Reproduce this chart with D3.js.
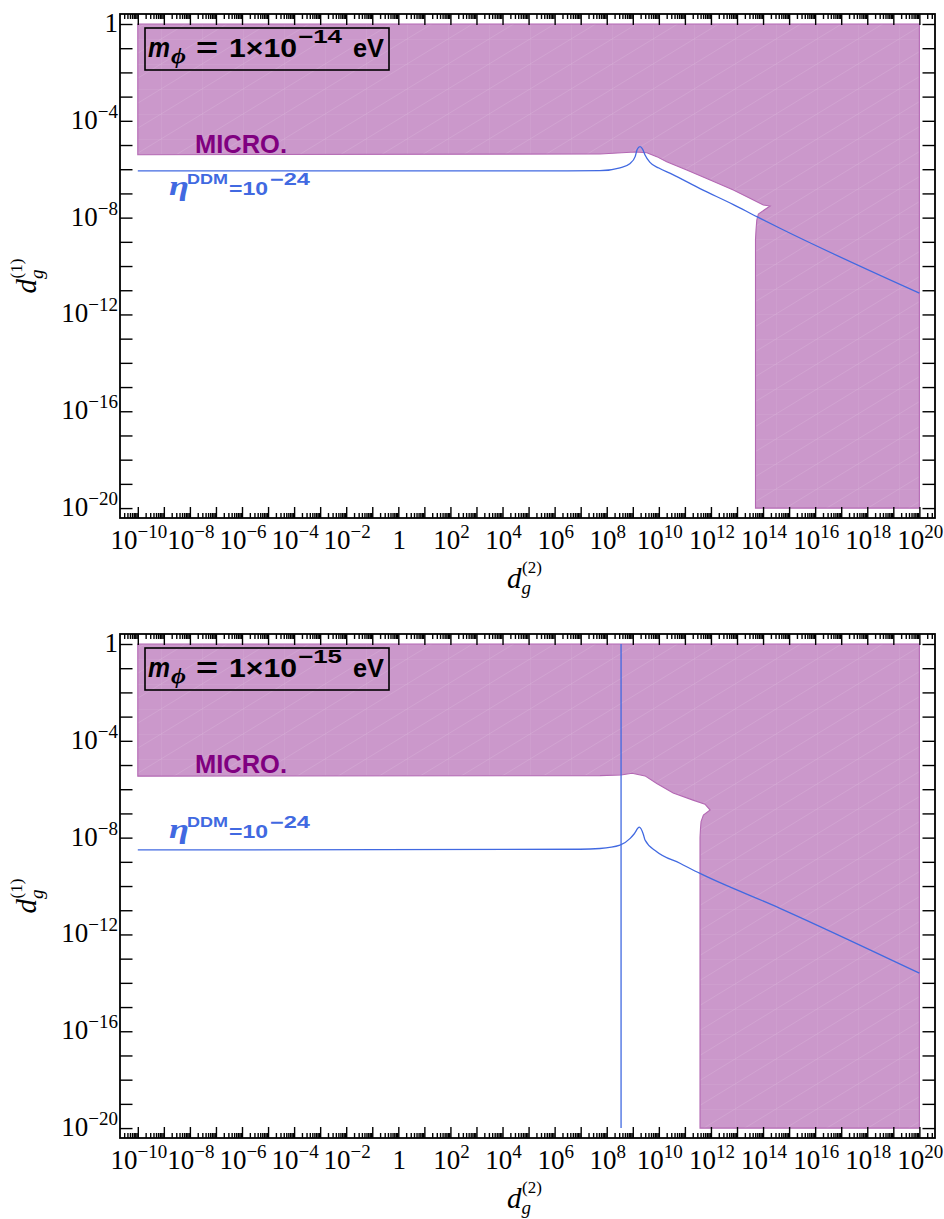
<!DOCTYPE html>
<html>
<head>
<meta charset="utf-8">
<script src="https://d3js.org/d3.v7.min.js"></script>
<style>
  body { margin: 0; background: #fff; }
  svg text { font-family: "Liberation Serif", "Times New Roman", serif; }
  svg text.ann { font-family: "Liberation Sans", Arial, sans-serif; font-weight: bold; }
  svg text.greek { font-family: "Liberation Serif", serif; font-style: italic; font-weight: bold; }
  .tick line { stroke: #000; stroke-width: 1.4; }
</style>
</head>
<body>
<svg id="chart" width="944" height="1219"></svg>
<script>
// all values are log10 exponents
const xLabelExps = [-10, -8, -6, -4, -2, 0, 2, 4, 6, 8, 10, 12, 14, 16, 18, 20];
const yLabelExps = [0, -4, -8, -12, -16, -20];
const xMajorExps = d3.range(-11, 22);
const yMajorExps = d3.range(-20, 1);
const massExps = [-14, -15];

// panel 1 : m_phi = 1e-14 eV
// excluded (MICRO.) region outline
const topRegionX = [-10, 20, 20, 13.71, 13.71, 13.73, 13.76, 13.82, 14.27, 14.01, 13.63, 12.86, 11.97, 11.07, 10.30, 9.92, 9.54, 9.09, 7.74, -10];
const topRegionY = [0, 0, -20, -20, -8.9, -8.51, -8.10, -7.85, -7.52, -7.48, -7.27, -6.86, -6.45, -6.03, -5.69, -5.48, -5.32, -5.29, -5.37, -5.40];
// eta_DDM = 1e-24 contour
const topEtaX = [-10, 6.5, 7.74, 8.51, 8.90, 9.09, 9.17, 9.28, 9.38, 9.47, 9.66, 10.0, 10.5, 11.58, 12.86, 13.76, 14.65, 20];
const topEtaY = [-6.07, -6.07, -6.06, -5.94, -5.76, -5.48, -5.18, -5.07, -5.18, -5.41, -5.72, -5.95, -6.20, -6.80, -7.46, -7.96, -8.44, -11.12];
const topVertX = [];

// panel 2 : m_phi = 1e-15 eV
const botRegionX = [-10, 20, 20, 11.58, 11.58, 11.60, 11.62, 11.71, 11.97, 11.77, 11.31, 10.55, 9.92, 9.47, 8.97, 8.55, 7.74, -10];
const botRegionY = [0, 0, -20, -20, -8.0, -7.6, -7.34, -7.07, -6.86, -6.62, -6.45, -6.16, -5.76, -5.45, -5.34, -5.41, -5.44, -5.46];
const botEtaX = [-10, 6.98, 7.74, 8.51, 8.90, 9.05, 9.25, 9.40, 9.47, 9.92, 10.81, 11.58, 14.65, 20];
const botEtaY = [-8.51, -8.48, -8.45, -8.31, -8.03, -7.85, -7.57, -7.85, -8.10, -8.58, -9.06, -9.48, -10.92, -13.60];
const botVertX = [8.55];

const panels = [
  { top: 14, mass: massExps[0], regionX: topRegionX, regionY: topRegionY, etaX: topEtaX, etaY: topEtaY, vertX: topVertX, etaLabelY: 181 },
  { top: 634, mass: massExps[1], regionX: botRegionX, regionY: botRegionY, etaX: botEtaX, etaY: botEtaY, vertX: botVertX, etaLabelY: 204 }
];

const W = 815, H = 504, left = 120;
const pow = e => Math.pow(10, e);
const x = d3.scaleLog().domain([pow(-10.683), pow(20.60)]).range([0, W]);
const y = d3.scaleLog().domain([pow(-20.41), pow(0.413)]).range([H, 0]);

const svg = d3.select("#chart");
const defs = svg.append("defs");
const pat = defs.append("pattern").attr("id", "mesh").attr("patternUnits", "userSpaceOnUse")
  .attr("width", 41).attr("height", 25);
pat.append("rect").attr("width", 41).attr("height", 25).attr("fill", "#cb98cb");
pat.append("path").attr("d", "M0,0V25M0,0H41M0,25L41,0")
  .attr("stroke", "#fff").attr("stroke-opacity", 0.14).attr("stroke-width", 0.8).attr("fill", "none");

const minorVals = [];
xMajorExps.forEach(e => { for (let k = 2; k <= 9; k++) minorVals.push(k * pow(e)); });
const xMajorVals = xMajorExps.map(pow);
const yMajorVals = yMajorExps.map(pow);

function supLabel(sel, e, small, rise) {
  if (e === 0) { sel.append("tspan").text("1"); return; }
  sel.append("tspan").text("10");
  sel.append("tspan").attr("font-size", small).attr("dy", -rise).text(String(e).replace("-", "\u2212"));
}

// stretched text piece (the original font renders wider)
function piece(g, cls, txt, px, py, size, len, extra) {
  const t = g.append("text").attr("class", cls).attr("x", px).attr("y", py)
    .attr("font-size", size).text(txt);
  if (len) t.attr("textLength", len).attr("lengthAdjust", "spacingAndGlyphs");
  if (extra) extra(t);
  return t;
}

panels.forEach((p, i) => {
  const g = svg.append("g").attr("transform", `translate(${left},${p.top})`);
  const clipId = "clip" + i;
  defs.append("clipPath").attr("id", clipId).append("rect").attr("width", W).attr("height", H);
  const plot = g.append("g").attr("clip-path", `url(#${clipId})`);

  // excluded region
  const region = p.regionX.map((v, j) => [v, p.regionY[j]]);
  plot.append("path")
    .attr("d", d3.line().x(d => x(pow(d[0]))).y(d => y(pow(d[1]))).curve(d3.curveLinearClosed)(region))
    .attr("fill", "url(#mesh)").attr("stroke", "#b368b3").attr("stroke-width", 1.1);

  // eta contour
  const eta = p.etaX.map((v, j) => [v, p.etaY[j]]);
  plot.append("path")
    .attr("d", d3.line().x(d => x(pow(d[0]))).y(d => y(pow(d[1]))).curve(d3.curveMonotoneX)(eta))
    .attr("fill", "none").attr("stroke", "#4169e1").attr("stroke-width", 1.3);
  p.vertX.forEach(v => {
    plot.append("line").attr("x1", x(pow(v))).attr("x2", x(pow(v)))
      .attr("y1", y(1)).attr("y2", y(pow(-20)))
      .attr("stroke", "#4169e1").attr("stroke-width", 1.3);
  });

  // ticks
  const mk = (axis, tr) => {
    const a = g.append("g").attr("transform", tr).call(axis);
    a.select(".domain").remove();
    a.selectAll("text").remove();
    return a;
  };
  const inX = v => x(v) >= 0 && x(v) <= W;
  mk(d3.axisBottom(x).tickValues(xMajorVals.filter(inX)).tickSize(-11), `translate(0,${H})`);
  mk(d3.axisBottom(x).tickValues(minorVals.filter(inX)).tickSize(-5), `translate(0,${H})`);
  mk(d3.axisTop(x).tickValues(xMajorVals.filter(inX)).tickSize(-11), `translate(0,0)`);
  mk(d3.axisTop(x).tickValues(minorVals.filter(inX)).tickSize(-5), `translate(0,0)`);
  mk(d3.axisLeft(y).tickValues(yMajorVals).tickSize(-12.5), `translate(0,0)`);
  mk(d3.axisRight(y).tickValues(yMajorVals).tickSize(-12.5), `translate(${W},0)`);

  g.append("rect").attr("width", W).attr("height", H)
    .attr("fill", "none").attr("stroke", "#000").attr("stroke-width", 1.8);

  // tick labels
  xLabelExps.forEach(e => {
    const t = g.append("text").attr("x", x(pow(e)) + 1).attr("y", H + 31)
      .attr("text-anchor", "middle").attr("font-size", 27);
    supLabel(t, e, 19, 11);
  });
  yLabelExps.forEach(e => {
    const t = g.append("text").attr("x", -2).attr("y", y(pow(e)) + 8)
      .attr("text-anchor", "end").attr("font-size", 27);
    supLabel(t, e, 19, 11);
  });

  // axis titles
  const yt = g.append("text").attr("transform", `translate(-84,${H / 2 + 10}) rotate(-90)`)
    .attr("text-anchor", "middle").attr("font-size", 29);
  yt.append("tspan").attr("font-style", "italic").text("d");
  yt.append("tspan").attr("font-style", "italic").attr("font-size", 19).attr("dy", 7).text("g");
  yt.append("tspan").attr("font-size", 17).attr("dx", -9).attr("dy", -21).text("(1)");

  const xt = g.append("text").attr("x", W / 2 - 3).attr("y", H + 70)
    .attr("text-anchor", "middle").attr("font-size", 29);
  xt.append("tspan").attr("font-style", "italic").text("d");
  xt.append("tspan").attr("font-style", "italic").attr("font-size", 19).attr("dy", 6).text("g");
  xt.append("tspan").attr("font-size", 17).attr("dx", -9).attr("dy", -21).text("(2)");

  // mass label box
  g.append("rect").attr("x", 25).attr("y", 14).attr("width", 244).attr("height", 42)
    .attr("fill", "none").attr("stroke", "#000").attr("stroke-width", 1.6);
  piece(g, "ann", "m", 28, 43, 27, 22, t => t.attr("font-style", "italic"));
  piece(g, "greek", "\u03d5", 51, 49, 20, 15);
  piece(g, "ann", "=", 76, 43, 27, 22);
  piece(g, "ann", "1\u00d710", 109, 43, 25.5, 68);
  piece(g, "ann", String(p.mass).replace("-", "\u2212"), 178, 29, 19, 44);
  piece(g, "ann", "eV", 233, 43, 25.5, 31);

  // MICRO. label
  piece(g, "ann", "MICRO.", 75, 138.5, 26, 92, t => t.attr("fill", "#800080"));

  // eta label
  const blue = t => t.attr("fill", "#4169e1");
  piece(g, "greek", "\u03b7", 49, p.etaLabelY, 28, 20, blue);
  piece(g, "ann", "DDM", 67, p.etaLabelY - 11, 15, 41, blue);
  piece(g, "ann", "=10", 109, p.etaLabelY, 19, 39, blue);
  piece(g, "ann", "\u221224", 150, p.etaLabelY - 10, 16.5, 40, blue);
});
</script>
</body>
</html>
